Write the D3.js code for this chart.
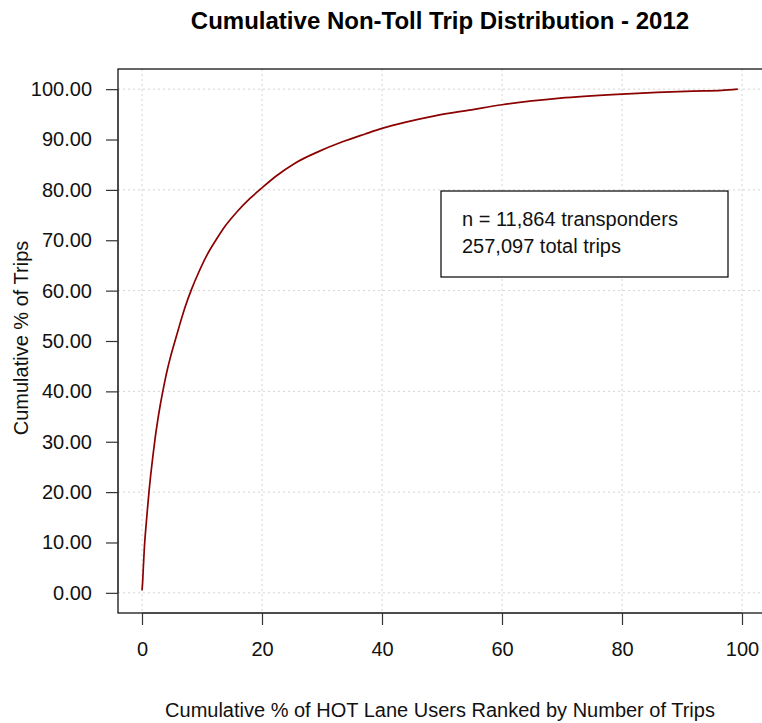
<!DOCTYPE html>
<html>
<head>
<meta charset="utf-8">
<script src="https://cdn.jsdelivr.net/npm/d3@7/dist/d3.min.js"></script>
<style>
  html, body { margin: 0; padding: 0; background: #fff; }
  svg { display: block; font-family: "Liberation Sans", Arial, sans-serif; }
</style>
</head>
<body>
<svg id="chart" width="762" height="723"></svg>
<script>
// Cumulative % of HOT lane users (ranked by trips) vs cumulative % of trips
const usersPct = [0, 0.1, 0.2, 0.4, 0.6, 0.9, 1.2, 1.45, 1.8, 2.2, 2.6, 3.0, 3.4, 3.8, 4.2, 4.7,
  5.5, 6.3, 7.2, 8.3, 9.4, 10.8, 12.4, 13.6, 15.8, 18, 20, 22.2, 25.5, 29.4, 33.3, 37.2,
  40, 43.8, 48.8, 54.9, 60, 69.7, 80, 91.8, 96.6, 99.3];
const tripsPct = [0.5, 2, 4.5, 9.1, 12.3, 16.5, 20.5, 23.4, 27.0, 30.8, 34.1, 37.0, 39.6, 42.0, 44.2, 46.6,
  50.0, 53.3, 56.8, 60.4, 63.5, 67.0, 70.2, 72.4, 75.6, 78.3, 80.4, 82.6, 85.3, 87.6, 89.5, 91.1,
  92.2, 93.4, 94.7, 95.9, 96.9, 98.2, 99.0, 99.6, 99.75, 100];

const xTicks = [0, 20, 40, 60, 80, 100];
const yTicks = [0, 10, 20, 30, 40, 50, 60, 70, 80, 90, 100];
const gridX = [0, 20, 40, 60, 80, 100];
const gridY = [0, 20, 40, 60, 80, 100];

const titleText = "Cumulative Non-Toll Trip Distribution - 2012";
const xTitle = "Cumulative % of HOT Lane Users Ranked by Number of Trips";
const yTitle = "Cumulative % of Trips";
const legendLines = ["n = 11,864 transponders", "257,097 total trips"];

const svg = d3.select("#chart");
const box = { left: 118, right: 766, top: 69, bottom: 613 };

// 4% padding on both axes around the 0-100 range
const x = d3.scaleLinear().domain([-4, 104]).range([box.left, box.right]);
const y = d3.scaleLinear().domain([-4, 104]).range([box.bottom, box.top]);

const fontSize = 20;
const textColor = "#111";

// dotted grid
const grid = svg.append("g").attr("stroke", "#d3d3d3").attr("stroke-width", 1)
  .attr("stroke-dasharray", "2,3");
grid.selectAll("line.gx").data(gridX).join("line")
  .attr("x1", d => x(d)).attr("x2", d => x(d))
  .attr("y1", box.top).attr("y2", box.bottom);
grid.selectAll("line.gy").data(gridY).join("line")
  .attr("x1", box.left).attr("x2", box.right)
  .attr("y1", d => y(d)).attr("y2", d => y(d));

// cumulative distribution curve
const pts = usersPct.map((u, i) => [u, tripsPct[i]]);
svg.append("path")
  .datum(pts)
  .attr("fill", "none")
  .attr("stroke", "#8b0000")
  .attr("stroke-width", 1.7)
  .attr("d", d3.line().x(d => x(d[0])).y(d => y(d[1])).curve(d3.curveMonotoneX));

// plot frame
svg.append("rect")
  .attr("x", box.left).attr("y", box.top)
  .attr("width", box.right - box.left).attr("height", box.bottom - box.top)
  .attr("fill", "none").attr("stroke", "#000").attr("stroke-width", 1.2);

// axes
const xAxis = d3.axisBottom(x).tickValues(xTicks).tickSize(12).tickPadding(17)
  .tickFormat(d3.format("d"));
const gx = svg.append("g").attr("transform", `translate(0,${box.bottom})`).call(xAxis);
gx.select(".domain").attr("d", `M${x(0)},0H${x(100)}`).attr("stroke", "#333");
gx.selectAll(".tick line").attr("stroke", "#333").attr("stroke-width", 1.2);
gx.selectAll("text").attr("font-size", fontSize).attr("fill", textColor)
  .attr("font-family", "Liberation Sans, Arial, sans-serif");

const yAxis = d3.axisLeft(y).tickValues(yTicks).tickSize(12).tickPadding(14)
  .tickFormat(d3.format(".2f"));
const gy = svg.append("g").attr("transform", `translate(${box.left},0)`).call(yAxis);
gy.select(".domain").attr("d", `M0,${y(0)}V${y(100)}`).attr("stroke", "#333");
gy.selectAll(".tick line").attr("stroke", "#333").attr("stroke-width", 1.2);
gy.selectAll("text").attr("font-size", fontSize).attr("fill", textColor)
  .attr("font-family", "Liberation Sans, Arial, sans-serif");

// titles
svg.append("text").attr("x", 440).attr("y", 29).attr("text-anchor", "middle")
  .attr("font-size", 24).attr("font-weight", "bold").attr("fill", "#000").text(titleText);
svg.append("text").attr("x", 440).attr("y", 717).attr("text-anchor", "middle")
  .attr("font-size", fontSize).attr("fill", textColor).text(xTitle);
svg.append("text").attr("transform", "translate(28,338) rotate(-90)").attr("text-anchor", "middle")
  .attr("font-size", fontSize).attr("fill", textColor).text(yTitle);

// legend box
const lg = svg.append("g");
lg.append("rect").attr("x", 441).attr("y", 191).attr("width", 287).attr("height", 86)
  .attr("fill", "#fff").attr("stroke", "#000").attr("stroke-width", 1.2);
lg.selectAll("text").data(legendLines).join("text")
  .attr("x", 462).attr("y", (d, i) => 226 + i * 27)
  .attr("font-size", fontSize).attr("fill", textColor).text(d => d);
</script>
</body>
</html>
